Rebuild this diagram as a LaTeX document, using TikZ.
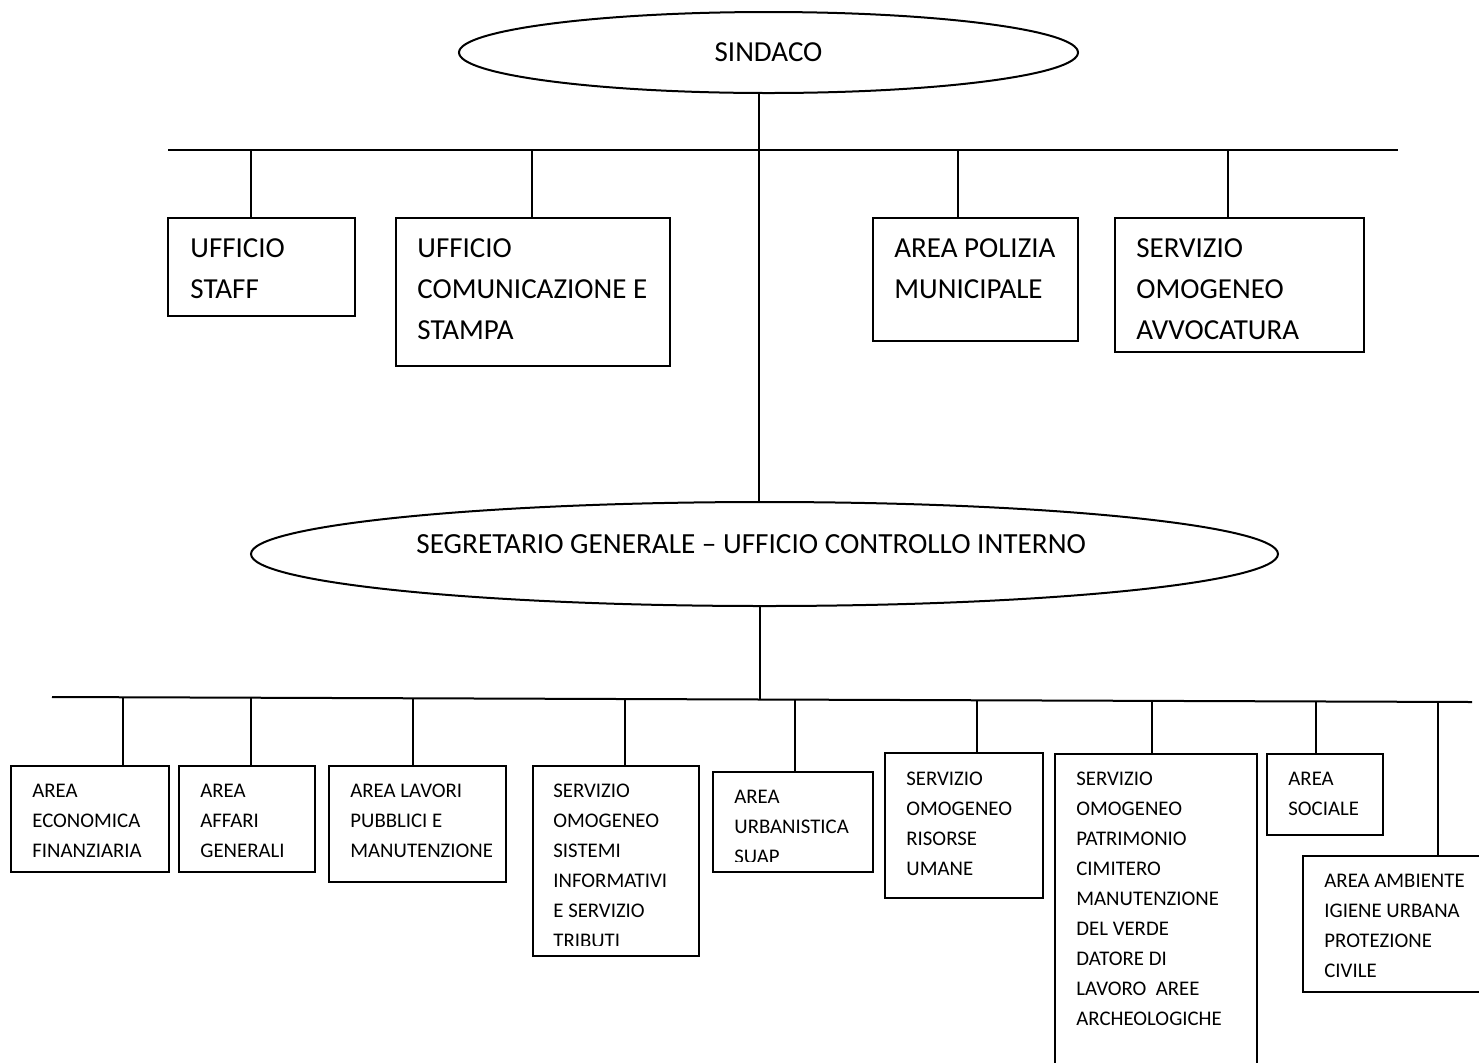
\documentclass[tikz,border=0pt]{standalone}
\usepackage{fontspec}
\setmainfont{Carlito}
\usetikzlibrary{shapes.geometric,fit}
\begin{document}
\begin{tikzpicture}[x=0.5pt,y=-0.5pt,
  ln/.style={line width=1pt},
  cn/.style={line width=0.9pt},
  box/.style={draw,line width=1pt,rectangle,inner sep=0pt},
  big/.style={font=\fontsize{14.5}{20.5}\selectfont, align=left, anchor=base west, inner sep=0pt},
  small/.style={font=\fontsize{10.4}{15}\selectfont, align=left, anchor=base west, inner sep=0pt},
  oval/.style={draw, ellipse, line width=1pt, inner sep=0pt}]
\useasboundingbox (0,0) rectangle (1479,1062);
\clip (0,0) rectangle (1479,1062);

% ---- top ellipses ----
\node[oval, minimum width=309.5pt, minimum height=40.5pt, font=\fontsize{14.5}{17}\selectfont] (sindaco) at (768.5,52.5) {SINDACO};
\node[oval, minimum width=513.5pt, minimum height=52pt] (sg) at (764.5,554) {};
\node[anchor=base west, inner sep=0pt, font=\fontsize{14.6}{17}\selectfont] (sgtext) at (416,553) {SEGRETARIO GENERALE – UFFICIO CONTROLLO INTERNO};

\coordinate (v1) at (759,0);
\coordinate (v2) at (760,0);
\draw[cn] (v1 |- sindaco.south) -- (v1 |- sg.north);

% ---- first horizontal line ----
\coordinate (h1a) at (168,150);
\coordinate (h1b) at (1398,150);
\draw[ln] (h1a) -- (h1b);

% top boxes
\node[box, fit={(168,218) (355,316)}] (staff) {};
\node[box, fit={(396,218) (670,366)}] (comun) {};
\node[box, fit={(873,218) (1078,341)}] (poliz) {};
\node[box, fit={(1115,218) (1364,352)}] (avvoc) {};
% anchors are at the baseline of the last line
\node[big] (tstaff) at (190,298) {UFFICIO\\STAFF};
\node[big] (tcomun) at (417,339) {UFFICIO\\COMUNICAZIONE E\\STAMPA};
\node[big] (tpoliz) at (894,298) {AREA POLIZIA\\MUNICIPALE};
\node[big] (tavvoc) at (1136,339) {SERVIZIO\\OMOGENEO\\AVVOCATURA};

\coordinate (ta) at (251,150);
\coordinate (tb) at (532,150);
\coordinate (tc) at (958,150);
\coordinate (td) at (1228,150);
\draw[cn] (ta) -- (ta |- staff.north);
\draw[cn] (tb) -- (tb |- comun.north);
\draw[cn] (tc) -- (tc |- poliz.north);
\draw[cn] (td) -- (td |- avvoc.north);

% ---- second horizontal line ----
\coordinate (h2a) at (52,697);
\coordinate (h2b) at (1472,702);
\draw[ln] (h2a) -- (h2b);
\draw[cn] (v2 |- sg.south) -- (760,699);

% bottom boxes
\node[box, fit={(11,766) (169,872)}] (b1) {};
\node[box, fit={(179,766) (315,872)}] (b2) {};
\node[box, fit={(329,766) (506,882)}] (b3) {};
\node[box, fit={(533,766) (699,956)}] (b4) {};
\node[box, fit={(713,772) (873,872)}] (b5) {};
\node[box, fit={(885,753) (1043,898)}] (b6) {};
\node[box, fit={(1055,754) (1257,1075)}] (b7) {};
\node[box, fit={(1267,754) (1383,835)}] (b8) {};
\node[box, fit={(1303,856) (1495,992)}] (b9) {};

\node[small] (t1) at (32,857) {AREA\\ECONOMICA\\FINANZIARIA};
\node[small] (t2) at (200,857) {AREA\\AFFARI\\GENERALI};
\node[small] (t3) at (350,857) {AREA LAVORI\\PUBBLICI E\\MANUTENZIONE};
\begin{scope}
\clip (533,766) rectangle (699,945);
\node[small] (t4) at (553,947) {SERVIZIO\\OMOGENEO\\SISTEMI\\INFORMATIVI\\E SERVIZIO\\TRIBUTI};
\end{scope}
\begin{scope}
\clip (713,772) rectangle (873,861);
\node[small] (t5) at (734,863) {AREA\\URBANISTICA\\SUAP};
\end{scope}
\node[small] (t6) at (906,875) {SERVIZIO\\OMOGENEO\\RISORSE\\UMANE};
\node[small] (t7) at (1076,1025) {SERVIZIO\\OMOGENEO\\PATRIMONIO\\CIMITERO\\MANUTENZIONE\\DEL VERDE\\DATORE DI\\LAVORO\ \ AREE\\ARCHEOLOGICHE};
\node[small] (t8) at (1288,815) {AREA\\SOCIALE};
\node[small] (t9) at (1324,977) {AREA AMBIENTE\\IGIENE URBANA\\PROTEZIONE\\CIVILE};

\coordinate (c1) at (123,697.3);
\coordinate (c2) at (251,697.7);
\coordinate (c3) at (413,698.3);
\coordinate (c4) at (625,699);
\coordinate (c5) at (795,699.6);
\coordinate (c6) at (977,700.3);
\coordinate (c7) at (1152,700.9);
\coordinate (c8) at (1316,701.4);
\coordinate (c9) at (1438,701.9);
\draw[cn] (c1) -- (c1 |- b1.north);
\draw[cn] (c2) -- (c2 |- b2.north);
\draw[cn] (c3) -- (c3 |- b3.north);
\draw[cn] (c4) -- (c4 |- b4.north);
\draw[cn] (c5) -- (c5 |- b5.north);
\draw[cn] (c6) -- (c6 |- b6.north);
\draw[cn] (c7) -- (c7 |- b7.north);
\draw[cn] (c8) -- (c8 |- b8.north);
\draw[cn] (c9) -- (c9 |- b9.north);
\end{tikzpicture}
\end{document}
